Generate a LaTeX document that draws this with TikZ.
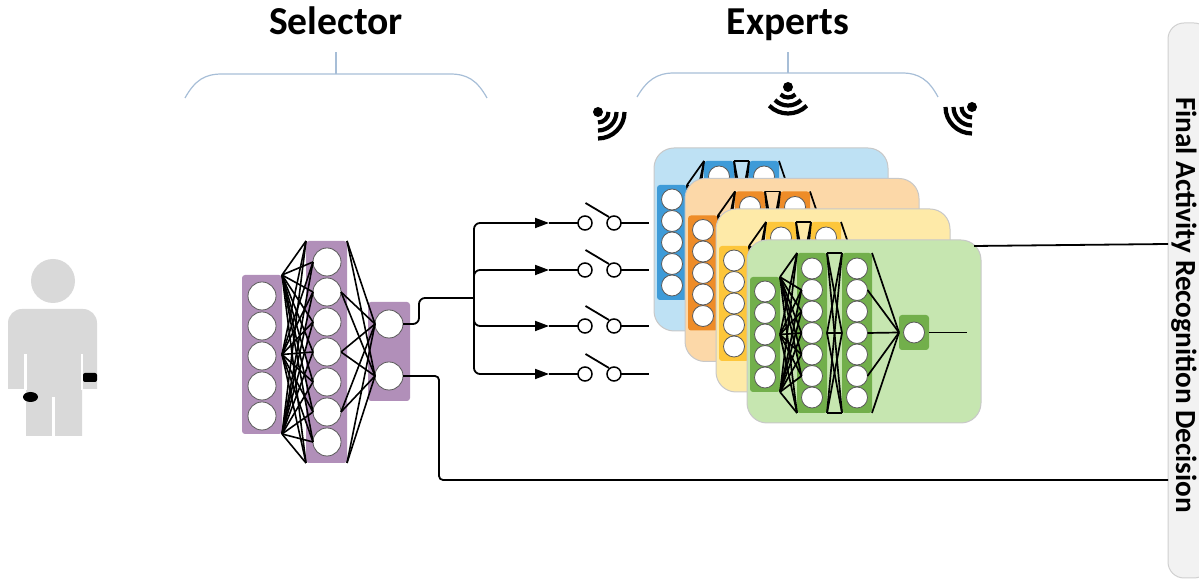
\documentclass[tikz,border=0pt]{standalone}
\usepackage{fontspec}
\setmainfont{Carlito}
\usetikzlibrary{arrows.meta}

\definecolor{personcol}{HTML}{D9D9D9}
\definecolor{selpurple}{RGB}{177,143,185}
\definecolor{bracecol}{RGB}{167,190,215}
\definecolor{cardgray}{HTML}{C8C8C8}
\definecolor{bluecard}{HTML}{BEE1F4}
\definecolor{bluelayer}{RGB}{62,155,216}
\definecolor{orangecard}{HTML}{FCD8A8}
\definecolor{orangelayer}{HTML}{EE8C28}
\definecolor{yellowcard}{HTML}{FEEAA8}
\definecolor{yellowlayer}{HTML}{FDC63A}
\definecolor{greencard}{HTML}{C6E6B0}
\definecolor{greenlayer}{HTML}{72AF4B}
\definecolor{finalfill}{HTML}{F2F2F2}
\definecolor{finaldraw}{HTML}{D0D0D0}

\tikzset{
  every node/.style={outer sep=0pt},
  neuron/.style={circle, draw=black!65, line width=0.4pt, fill=white, inner sep=0pt, minimum size=14pt},
  eneuron/.style={neuron, minimum size=10.5pt},
  layerbox/.style={rectangle, rounded corners=1.5pt, inner sep=0pt},
  wire/.style={line width=0.9pt, draw=black},
  link/.style={line width=0.8pt, draw=black},
  elink/.style={line width=0.85pt, draw=black},
  brace/.style={draw=bracecol, line width=0.6pt},
  card/.style={rectangle, rounded corners=10pt, draw=cardgray, line width=0.5pt, inner sep=0pt},
  swc/.style={circle, draw=black, line width=0.75pt, fill=white, inner sep=0pt, minimum size=7pt},
  title/.style={font=\fontsize{19.8pt}{22pt}\selectfont\bfseries, anchor=base}
}

% one expert network on its card: name prefix, top-left x, top-left y, card fill, layer fill
\newcommand{\expertcard}[5]{%
  \begin{scope}[shift={(#2,#3)}]
    \node[card, fill=#4, anchor=north west, minimum width=117pt, minimum height=91.5pt] (#1card) at (0,0) {};
    \node[layerbox, fill=#5, minimum width=15pt, minimum height=57.5pt] (#1A) at (18,94.5) {};
    \node[layerbox, fill=#5, minimum width=15pt, minimum height=80pt] (#1B) at (65,93) {};
    \node[layerbox, fill=#5, minimum width=15pt, minimum height=80pt] (#1C) at (110,93) {};
    \node[layerbox, fill=#5, minimum width=15pt, minimum height=17.5pt] (#1O) at (167,92.5) {};
    \foreach \k in {1,...,5} \node[eneuron] (#1a\k) at (18,{30+21.5*\k}) {};
    \foreach \k in {1,...,7} \node[eneuron] (#1b\k) at (65,{7+21.5*\k}) {};
    \foreach \k in {1,...,7} \node[eneuron] (#1c\k) at (110,{7+21.5*\k}) {};
    \node[eneuron] (#1o) at (167,92.5) {};
    \foreach \s in {#1A.north east,#1A.east,#1A.south east}
      \foreach \t in {#1B.north west,#1b2.west,#1b3.west,#1b4.west,#1b5.west,#1b6.west,#1B.south west}
        \draw[elink] (\s) -- (\t);
    \foreach \s in {#1B.north east,#1B.east,#1B.south east}
      \foreach \t in {#1C.north west,#1C.west,#1C.south west}
        \draw[elink] (\s) -- (\t);
    \foreach \s in {#1C.north east,#1c2.east,#1c4.east,#1c6.east,#1C.south east}
      \draw[elink] (\s) -- (#1O.west);
    \coordinate (#1end) at (220,92.5);
    \draw[wire] (#1O.east) -- (#1end);
  \end{scope}}

% wireless signal symbol: centre x, centre y, rotation
\newcommand{\wifiicon}[3]{%
  \begin{scope}[shift={(#1,#2)}, rotate=#3]
    \fill (0,0) circle[radius=5];
    \foreach \r in {10.5,18.5,26.5}
      \draw[line width=2.1pt] (45:\r) arc[start angle=45, end angle=135, radius=\r];
  \end{scope}}

\begin{document}
\begin{tikzpicture}[x=0.5pt, y=-0.5pt]
\useasboundingbox (0,0) rectangle (1199,581);

% ---- wearer with two sensors ----
\fill[personcol] (53,281) circle[radius=22];
\fill[personcol] (8,389) -- (8,323) arc[start angle=180, end angle=270, radius=14]
  -- (83,309) arc[start angle=270, end angle=360, radius=14] -- (97,389) -- (82,389)
  -- (82,436) -- (26,436) -- (26,389) -- cycle;
\draw[white, line width=1.1pt] (25.5,354) -- (25.5,390);
\draw[white, line width=1.1pt] (82,354) -- (82,390);
\draw[white, line width=1.4pt] (53.5,397) -- (53.5,437);
\fill[black, rounded corners=1pt] (83,373) rectangle (97,382);
\fill[black] (30.5,397) ellipse[x radius=7.5, y radius=5];

% ---- titles and braces ----
\node[title] (seltitle) at (336,35) {Selector};
\node[title] (exptitle) at (788,35) {Experts};
\draw[brace] (185,98) .. controls (195,80) and (205,74) .. (222,74) -- (450,74)
  .. controls (467,74) and (477,80) .. (487,98);
\draw[brace] (336,74) -- (336,52);
\draw[brace] (637,97) .. controls (647,80) and (657,73) .. (674,73) -- (902,73)
  .. controls (919,73) and (929,80) .. (938,97);
\draw[brace] (788,73) -- (788,52);

\wifiicon{598}{112}{45}
\wifiicon{788}{87}{0}
\wifiicon{972}{107}{-45}

% ---- selector network ----
\node[layerbox, fill=selpurple, minimum width=20pt, minimum height=79.5pt] (L1) at (262,354.5) {};
\node[layerbox, fill=selpurple, minimum width=20.5pt, minimum height=111pt] (L2) at (326.5,352) {};
\node[layerbox, fill=selpurple, minimum width=21pt, minimum height=49.5pt] (L3) at (389,351.5) {};
\foreach \k in {1,...,5} \node[neuron] (p\k) at (262,{266+30*\k}) {};
\foreach \k in {1,...,7} \node[neuron] (q\k) at (327,{232+30*\k}) {};
\node[neuron] (o1) at (389,324) {};
\node[neuron] (o2) at (389,376) {};
\foreach \s in {L1.north east,L1.east,L1.south east}
  \foreach \t in {L2.north west,q1.west,q2.west,q3.west,q4.west,q5.west,q6.west,q7.west,L2.south west}
    \draw[link] (\s) -- (\t);
\foreach \s in {L2.north east,q2.east,q4.east,q6.east,L2.south east}
  \foreach \t in {o1.west,o2.west}
    \draw[link] (\s) -- (\t);

% ---- decision box ----
\node[rectangle, rounded corners=8pt, fill=finalfill, draw=finaldraw, line width=0.5pt,
  minimum width=21pt, minimum height=277.5pt] (final) at (1189,300.5) {};
\node[rotate=-90, font=\fontsize{14.6pt}{16pt}\selectfont\bfseries] (finaltext) at (1184,305)
  {Final Activity Recognition Decision};

% ---- routing with switches ----
\coordinate (split) at (474,298);
\draw[wire, rounded corners=3pt] (o1.east) -- ++(16,0) |- (split);
\coordinate (lowbend) at (439,480);
\draw[wire, rounded corners=2pt] (o2.east) -| (lowbend) -- (lowbend -| final.west);
\foreach \y [count=\i] in {223,270,326,374} {
  \coordinate (tip\i) at (549,\y);
  \node[swc] (sa\i) at (585,\y) {};
  \node[swc] (sb\i) at (614,\y) {};
  \coordinate (lv\i) at (585.5,{\y-20});
  \coordinate (lw\i) at (609,{\y-6});
  \coordinate (feed\i) at (649,\y);
  \draw[wire, rounded corners=3pt, -{Triangle[length=7pt, width=5pt]}] (split) |- (tip\i);
  \draw[wire] (tip\i) -- (sa\i.west);
  \draw[wire] (lv\i) -- (lw\i);
  \draw[wire] (sb\i.east) -- (feed\i);
}

% ---- experts ----
\expertcard{eb}{654}{148}{bluecard}{bluelayer}
\expertcard{eo}{685}{178.5}{orangecard}{orangelayer}
\expertcard{ey}{716}{209}{yellowcard}{yellowlayer}
\expertcard{eg}{747}{240}{greencard}{greenlayer}

\coordinate (gtap) at (974,246);
\draw[wire] (gtap) -- (final.west |- 0,244);

\end{tikzpicture}
\end{document}
